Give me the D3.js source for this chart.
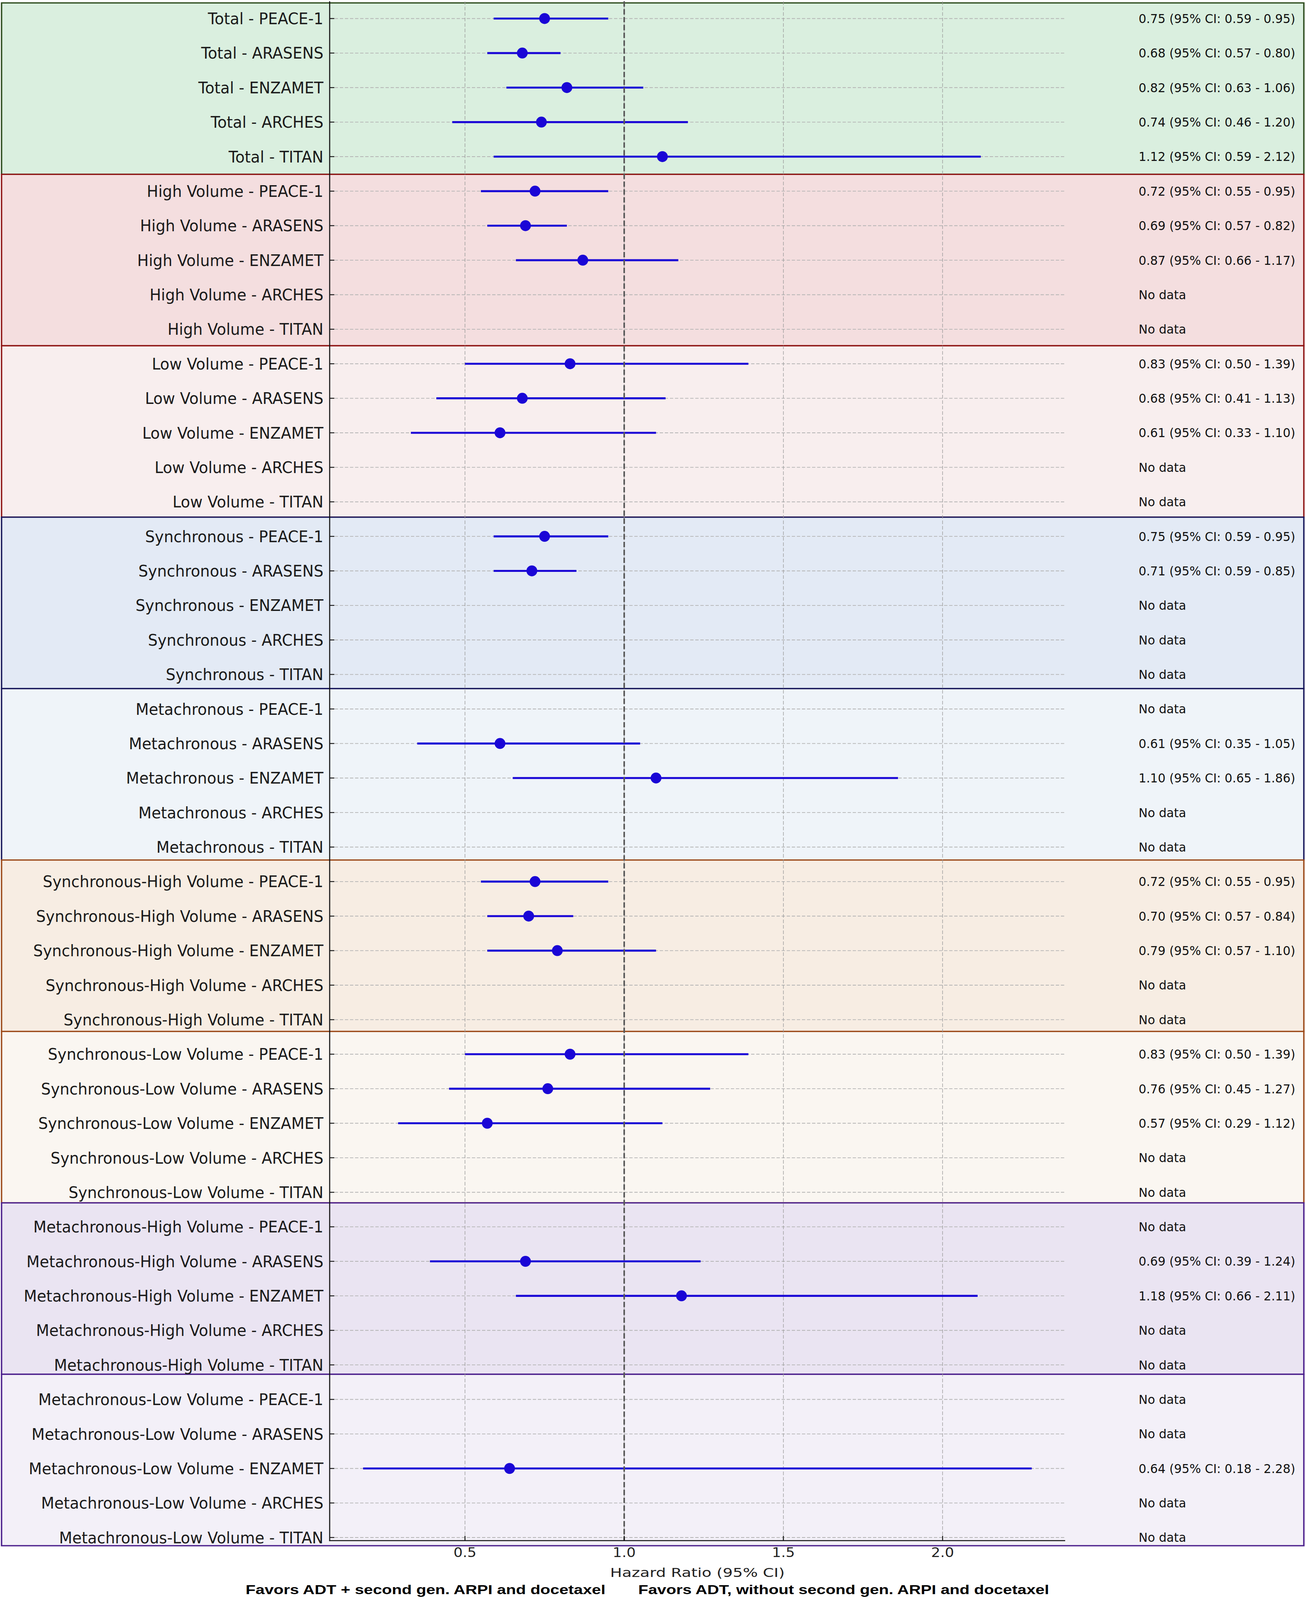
<!DOCTYPE html>
<html>
<head>
<meta charset="utf-8">
<script src="https://cdn.jsdelivr.net/npm/d3@7"></script>
<style>
html,body{margin:0;padding:0;background:#fff;overflow:hidden;}
svg{display:block;}
</style>
</head>
<body>
<div id="chart"></div>
<script>
// ---------------- DATA ----------------
const subgroups = ["Total", "High Volume", "Low Volume", "Synchronous", "Metachronous",
  "Synchronous-High Volume", "Synchronous-Low Volume", "Metachronous-High Volume", "Metachronous-Low Volume"];
const trials = ["PEACE-1", "ARASENS", "ENZAMET", "ARCHES", "TITAN"];

// hazard ratios: one row per subgroup, one column per trial (null = no data)
const hrValues = [
  [0.75, 0.68, 0.82, 0.74, 1.12],
  [0.72, 0.69, 0.87, null, null],
  [0.83, 0.68, 0.61, null, null],
  [0.75, 0.71, null, null, null],
  [null, 0.61, 1.10, null, null],
  [0.72, 0.70, 0.79, null, null],
  [0.83, 0.76, 0.57, null, null],
  [null, 0.69, 1.18, null, null],
  [null, null, 0.64, null, null]
];
const ciLower = [
  [0.59, 0.57, 0.63, 0.46, 0.59],
  [0.55, 0.57, 0.66, null, null],
  [0.50, 0.41, 0.33, null, null],
  [0.59, 0.59, null, null, null],
  [null, 0.35, 0.65, null, null],
  [0.55, 0.57, 0.57, null, null],
  [0.50, 0.45, 0.29, null, null],
  [null, 0.39, 0.66, null, null],
  [null, null, 0.18, null, null]
];
const ciUpper = [
  [0.95, 0.80, 1.06, 1.20, 2.12],
  [0.95, 0.82, 1.17, null, null],
  [1.39, 1.13, 1.10, null, null],
  [0.95, 0.85, null, null, null],
  [null, 1.05, 1.86, null, null],
  [0.95, 0.84, 1.10, null, null],
  [1.39, 1.27, 1.12, null, null],
  [null, 1.24, 2.11, null, null],
  [null, null, 2.28, null, null]
];
const xTicks = [0.5, 1.0, 1.5, 2.0];
const referenceValue = 1.0;
const xAxisTitle = "Hazard Ratio (95% CI)";
const favorsLeft = "Favors ADT + second gen. ARPI and docetaxel";
const favorsRight = "Favors ADT, without second gen. ARPI and docetaxel";
const noDataText = "No data";

// band styles per subgroup
const bandFills = ["#daefdf", "#f4dedf", "#f8eeee", "#e3eaf5", "#eff4f9", "#f7ede3", "#faf6f1", "#eae4f2", "#f3f0f8"];
const bandStrokes = ["#2e4d1e", "#8e1414", "#8e1414", "#16165a", "#16165a", "#9c4a1a", "#9c4a1a", "#4b1f8c", "#4b1f8c"];

// ---------------- BUILD ROWS ----------------
const rows = [];
subgroups.forEach((sg, g) => {
  trials.forEach((tr, t) => {
    rows.push({
      label: sg + " - " + tr,
      group: g,
      hr: hrValues[g][t],
      lo: ciLower[g][t],
      hi: ciUpper[g][t]
    });
  });
});
rows.forEach((r, i) => r.idx = i);

// ---------------- LAYOUT ----------------
const W = 3341, H = 4391;
const plotLeft = 844, plotRight = 2727, plotTop = 3.5, plotBottom = 4228;

const vw = window.innerWidth || W, vh = window.innerHeight || H;
const svg = d3.select("#chart").append("svg")
  .attr("width", vw).attr("height", vh)
  .attr("viewBox", `0 0 ${W} ${H}`)
  .attr("preserveAspectRatio", "none");
svg.append("rect").attr("width", W).attr("height", H).attr("fill", "#fff");

const dataMin = d3.min(rows, d => d.lo);
const dataMax = d3.max(rows, d => d.hi);
const pad = (dataMax - dataMin) * 0.05;
const x = d3.scaleLinear().domain([dataMin - pad, dataMax + pad]).range([plotLeft, plotRight]);
const y = d3.scaleLinear().domain([-0.5, rows.length - 0.91]).range([plotTop, plotBottom]);

// group band scale (figure-level rectangles)
const band = d3.scaleLinear().domain([0, subgroups.length]).range([8, 4242]);

function styledText(parent, tx, ty, str, o) {
  const g = parent.append("g")
    .attr("transform", `translate(${tx},${ty}) scale(${o.sx || 1},1)`);
  return g.append("text")
    .attr("x", 0).attr("y", 0)
    .attr("text-anchor", o.anchor || "start")
    .attr("font-family", o.family || "'DejaVu Sans', sans-serif")
    .attr("font-size", o.size)
    .attr("font-weight", o.weight || "normal")
    .attr("fill", o.fill || "#1a1a1a")
    .text(str);
}

// ---------------- BANDS ----------------
const bands = svg.append("g").attr("class", "bands");
subgroups.forEach((sg, g) => {
  bands.append("rect")
    .attr("x", 4).attr("y", band(g))
    .attr("width", W - 7).attr("height", band(g + 1) - band(g))
    .attr("fill", bandFills[g])
    .attr("stroke", bandStrokes[g])
    .attr("stroke-width", 3.5);
});

// ---------------- GRID ----------------
const grid = svg.append("g").attr("class", "grid");
grid.selectAll("line.hgrid").data(rows).join("line")
  .attr("class", "hgrid")
  .attr("x1", plotLeft).attr("x2", plotRight)
  .attr("y1", d => y(d.idx)).attr("y2", d => y(d.idx))
  .attr("stroke", "#b4b4b4").attr("stroke-width", 2)
  .attr("stroke-dasharray", "8.5,4.5");
grid.selectAll("line.vgrid").data(xTicks).join("line")
  .attr("class", "vgrid")
  .attr("x1", d => x(d)).attr("x2", d => x(d))
  .attr("y1", plotTop).attr("y2", plotBottom)
  .attr("stroke", "#9a9a9a").attr("stroke-width", 1.4)
  .attr("stroke-dasharray", "10,5");

// ---------------- CI LINES + MARKERS ----------------
const withData = rows.filter(d => d.hr != null);
const marks = svg.append("g").attr("class", "marks");
marks.selectAll("line.ci").data(withData).join("line")
  .attr("class", "ci")
  .attr("x1", d => x(d.lo)).attr("x2", d => x(d.hi))
  .attr("y1", d => y(d.idx)).attr("y2", d => y(d.idx))
  .attr("stroke", "#1a06d6").attr("stroke-width", 5.5);

// reference line
svg.append("line")
  .attr("x1", x(referenceValue)).attr("x2", x(referenceValue))
  .attr("y1", plotTop).attr("y2", plotBottom)
  .attr("stroke", "#5a5a5a").attr("stroke-width", 4)
  .attr("stroke-dasharray", "15,6.5");

svg.append("g").selectAll("ellipse").data(withData).join("ellipse")
  .attr("cx", d => x(d.hr)).attr("cy", d => y(d.idx))
  .attr("rx", 13.8).attr("ry", 15)
  .attr("fill", "#1a06d6");

// ---------------- AXES ----------------
const axes = svg.append("g").attr("class", "axes");
axes.selectAll("line.ytick").data(rows).join("line")
  .attr("class", "ytick")
  .attr("x1", plotLeft).attr("x2", plotLeft + 12)
  .attr("y1", d => y(d.idx)).attr("y2", d => y(d.idx))
  .attr("stroke", "#1a1a1a").attr("stroke-width", 2.5);
axes.selectAll("line.xtick").data(xTicks).join("line")
  .attr("class", "xtick")
  .attr("x1", d => x(d)).attr("x2", d => x(d))
  .attr("y1", plotBottom).attr("y2", plotBottom - 13)
  .attr("stroke", "#1a1a1a").attr("stroke-width", 2.5);
axes.append("line").attr("x1", plotLeft).attr("x2", plotLeft)
  .attr("y1", plotTop).attr("y2", plotBottom + 1.3)
  .attr("stroke", "#111").attr("stroke-width", 2.7);
axes.append("line").attr("x1", plotLeft - 1.3).attr("x2", plotRight)
  .attr("y1", plotBottom).attr("y2", plotBottom)
  .attr("stroke", "#111").attr("stroke-width", 2.7);

const fmt = d3.format(".1f");
xTicks.forEach(t => {
  styledText(svg, x(t), 4273, fmt(t), {size: 37, anchor: "middle", fill: "#222"});
});

rows.forEach(d => {
  styledText(svg, plotLeft - 16, y(d.idx) + 15.7, d.label, {size: 43, anchor: "end", sx: 0.91, fill: "#1a1a1a"});
});

const f2 = d3.format(".2f");
rows.forEach(d => {
  const s = d.hr == null ? noDataText : `${f2(d.hr)} (95% CI: ${f2(d.lo)} - ${f2(d.hi)})`;
  styledText(svg, plotRight + 188, y(d.idx) + 12.3, s, {size: 34, anchor: "start", sx: 0.91, fill: "#111"});
});

styledText(svg, (plotLeft + plotRight) / 2, 4328, xAxisTitle, {size: 34, anchor: "middle", sx: 1.19, fill: "#222"});

styledText(svg, x(referenceValue) - 48, 4375, favorsLeft,
  {size: 35, anchor: "end", sx: 1.19, weight: "bold", family: "'Liberation Sans', Arial, sans-serif", fill: "#000"});
styledText(svg, x(referenceValue) + 36, 4375, favorsRight,
  {size: 35, anchor: "start", sx: 1.19, weight: "bold", family: "'Liberation Sans', Arial, sans-serif", fill: "#000"});
</script>
</body>
</html>
